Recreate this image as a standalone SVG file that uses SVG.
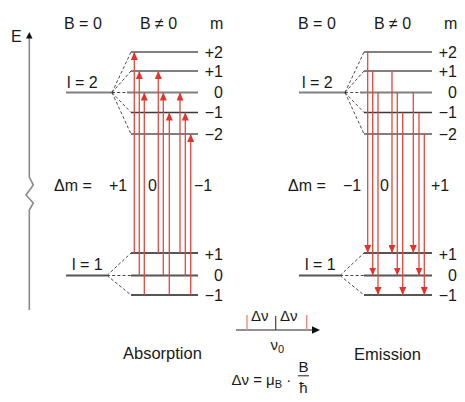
<svg xmlns="http://www.w3.org/2000/svg" width="465" height="402" viewBox="0 0 465 402">
<defs>
<style>
text{font-family:"Liberation Sans",Arial,sans-serif;font-size:16px;fill:#1a1a1a}
.r{text-anchor:end}
.lv{stroke:#808080;stroke-width:2;fill:none}
.lvd{stroke:#3a3a3a;stroke-width:1.4;fill:none}
.lvl{stroke:#555;stroke-width:1.8;fill:none}
.dash{stroke:#333;stroke-width:0.9;stroke-dasharray:3 2.2;fill:none}
.tr{stroke:#e8463c;stroke-width:1.3;fill:none;marker-end:url(#ah)}
.small{font-size:15px}
.cap{font-size:16.5px}
</style>
<marker id="ah" viewBox="0 0 8 7" refX="8" refY="3.5" markerWidth="8" markerHeight="7" orient="auto" markerUnits="userSpaceOnUse">
<path d="M0,0 L8,3.5 L0,7 Z" fill="#e4342a"/>
</marker>
</defs>
<rect width="465" height="402" fill="#fff"/>

<g id="energy-axis">
<polyline points="29.3,310 29.3,210 33.3,203 26,195 33.3,185 29.3,177 29.3,38" fill="none" stroke="#8a8a8a" stroke-width="1.6"/>
<polygon points="29.3,32 26,38.5 32.6,38.5" fill="#111"/>
<text x="11" y="42" font-size="15.5">E</text>
</g>

<g id="headers">
<text x="64" y="29">B = 0</text>
<text x="140" y="29">B ≠ 0</text>
<text x="210" y="29">m</text>
<text x="298" y="29">B = 0</text>
<text x="374" y="29">B ≠ 0</text>
<text x="444" y="29">m</text>
</g>

<g id="absorption-l2">
<line class="lv" x1="66" y1="92.5" x2="112" y2="92.5"/>
<text x="67" y="88">l = 2</text>
<path class="dash" d="M112,92.5 L131,52 M112,92.5 L131,71 M112,92.5 L127,92.5 M112,92.5 L131,112.5 M112,92.5 L131,134"/>
<line class="lv" x1="131" y1="52" x2="198" y2="52"/>
<line class="lv" x1="131" y1="71" x2="198" y2="71"/>
<line class="lv" x1="127" y1="92.5" x2="198" y2="92.5"/>
<line class="lvd" x1="131" y1="112.5" x2="198" y2="112.5"/>
<line class="lv" x1="131" y1="134" x2="198" y2="134"/>
<text class="r" x="223" y="57.5">+2</text>
<text class="r" x="223" y="76.5">+1</text>
<text class="r" x="223" y="98">0</text>
<text class="r" x="223" y="118">−1</text>
<text class="r" x="223" y="139.5">−2</text>
</g>

<g id="absorption-l1">
<line class="lvl" x1="66" y1="275.5" x2="107" y2="275.5"/>
<text x="72" y="270">l = 1</text>
<path class="dash" d="M107,275.5 L131,253 M107,275.5 L131,275.5 M107,275.5 L131,295"/>
<line class="lvl" x1="131" y1="253" x2="198" y2="253"/>
<line class="lvl" x1="131" y1="275.5" x2="198" y2="275.5"/>
<line class="lvl" x1="131" y1="295" x2="198" y2="295"/>
<text class="r" x="223" y="259.5">+1</text>
<text class="r" x="223" y="281">0</text>
<text class="r" x="223" y="300.5">−1</text>
</g>

<g id="emission-l2">
<line class="lv" x1="299" y1="92.5" x2="345" y2="92.5"/>
<text x="302" y="88">l = 2</text>
<path class="dash" d="M345,92.5 L364,52 M345,92.5 L364,71 M345,92.5 L360,92.5 M345,92.5 L364,112.5 M345,92.5 L364,134"/>
<line class="lv" x1="364" y1="52" x2="432" y2="52"/>
<line class="lv" x1="364" y1="71" x2="432" y2="71"/>
<line class="lv" x1="360" y1="92.5" x2="432" y2="92.5"/>
<line class="lvd" x1="364" y1="112.5" x2="432" y2="112.5"/>
<line class="lv" x1="364" y1="134" x2="432" y2="134"/>
<text class="r" x="457" y="57.5">+2</text>
<text class="r" x="457" y="76.5">+1</text>
<text class="r" x="457" y="98">0</text>
<text class="r" x="457" y="118">−1</text>
<text class="r" x="457" y="139.5">−2</text>
</g>

<g id="emission-l1">
<line class="lvl" x1="299" y1="275.5" x2="340" y2="275.5"/>
<text x="305" y="270">l = 1</text>
<path class="dash" d="M340,275.5 L364,253 M340,275.5 L364,275.5 M340,275.5 L364,295"/>
<line class="lvl" x1="364" y1="253" x2="432" y2="253"/>
<line class="lvl" x1="364" y1="275.5" x2="432" y2="275.5"/>
<line class="lvl" x1="364" y1="295" x2="432" y2="295"/>
<text class="r" x="457" y="259.5">+1</text>
<text class="r" x="457" y="281">0</text>
<text class="r" x="457" y="300.5">−1</text>
</g>

<g id="transitions">
<line class="tr" x1="134.3" y1="253" x2="134.3" y2="52"/>
<line class="tr" x1="139.3" y1="275.5" x2="139.3" y2="71"/>
<line class="tr" x1="144.3" y1="295" x2="144.3" y2="92.5"/>
<line class="tr" x1="158.3" y1="253" x2="158.3" y2="71"/>
<line class="tr" x1="163.3" y1="275.5" x2="163.3" y2="92.5"/>
<line class="tr" x1="169.3" y1="295" x2="169.3" y2="112.5"/>
<line class="tr" x1="180" y1="253" x2="180" y2="92.5"/>
<line class="tr" x1="185.3" y1="275.5" x2="185.3" y2="112.5"/>
<line class="tr" x1="190.7" y1="295" x2="190.7" y2="134"/>

<line class="tr" x1="367.7" y1="52" x2="367.7" y2="253"/>
<line class="tr" x1="372.7" y1="71" x2="372.7" y2="275.5"/>
<line class="tr" x1="378" y1="92.5" x2="378" y2="295"/>
<line class="tr" x1="392" y1="71" x2="392" y2="253"/>
<line class="tr" x1="397.3" y1="92.5" x2="397.3" y2="275.5"/>
<line class="tr" x1="402.7" y1="112.5" x2="402.7" y2="295"/>
<line class="tr" x1="413.3" y1="92.5" x2="413.3" y2="253"/>
<line class="tr" x1="419" y1="112.5" x2="419" y2="275.5"/>
<line class="tr" x1="424.3" y1="134" x2="424.3" y2="295"/>
</g>

<g id="delta-m">
<text x="54" y="190.5">Δm =</text>
<text x="109" y="190.5">+1</text>
<text x="148" y="190.5">0</text>
<text x="194" y="190.5">−1</text>
<text x="288" y="190.5">Δm =</text>
<text x="343" y="190.5">−1</text>
<text x="380" y="190.5">0</text>
<text x="431" y="190.5">+1</text>
</g>

<g id="spectrum">
<line x1="236" y1="330" x2="314" y2="330" stroke="#222" stroke-width="1.2"/>
<polygon points="312,326.3 320,330 312,333.7" fill="#111"/>
<line x1="247" y1="315" x2="247" y2="330" stroke="#f08a84" stroke-width="1.4"/>
<line x1="306.7" y1="315" x2="306.7" y2="330" stroke="#f08a84" stroke-width="1.4"/>
<line x1="275.7" y1="316" x2="275.7" y2="330" stroke="#444" stroke-width="1.2"/>
<text class="small" x="251" y="321">Δν</text>
<text class="small" x="280" y="321">Δν</text>
<text class="small" x="270.5" y="350">ν<tspan font-size="11" dy="3">0</tspan></text>
</g>

<g id="captions">
<text class="cap" x="123" y="359">Absorption</text>
<text class="cap" x="354" y="359.5">Emission</text>
</g>

<g id="formula">
<text class="small" x="231.5" y="385">Δν = μ<tspan font-size="11" dy="3">B</tspan><tspan dy="-3"> ·</tspan></text>
<text class="small" x="303.5" y="371.5" text-anchor="middle">B</text>
<line x1="298" y1="375.8" x2="309" y2="375.8" stroke="#222" stroke-width="1"/>
<text class="small" x="303.5" y="393" text-anchor="middle">ħ</text>
</g>
</svg>
